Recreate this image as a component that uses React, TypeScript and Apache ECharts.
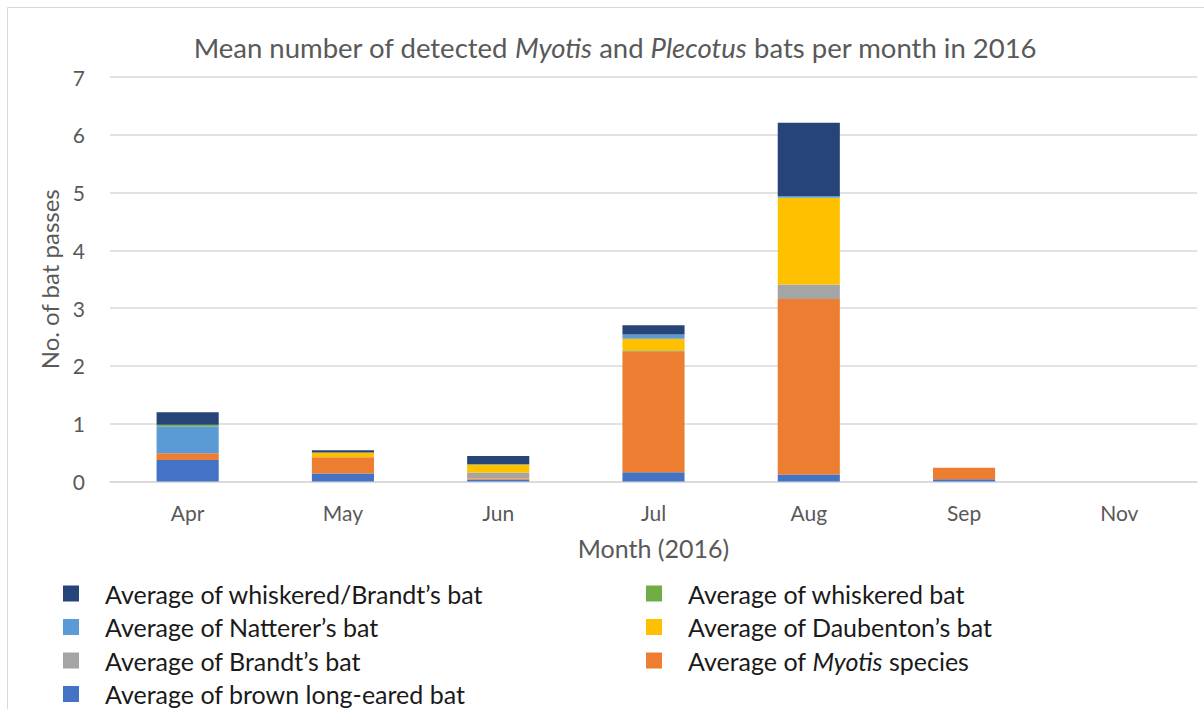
import React, { useEffect, useRef } from "react";
import * as echarts from "echarts";

const months = ["Apr", "May", "Jun", "Jul", "Aug", "Sep", "Nov"];
const yTicks = [0, 1, 2, 3, 4, 5, 6, 7];

const seriesNames = [
  "Average of brown long-eared bat",
  "Average of Myotis species",
  "Average of Brandt\u2019s bat",
  "Average of Daubenton\u2019s bat",
  "Average of Natterer\u2019s bat",
  "Average of whiskered bat",
  "Average of whiskered/Brandt\u2019s bat",
];
const seriesColors = ["#4472C4", "#ED7D31", "#A5A5A5", "#FFC000", "#5B9BD5", "#70AD47", "#264478"];

const brownLongEared = [0.37, 0.14, 0.03, 0.16, 0.12, 0.04, 0];
const myotisSpecies = [0.12, 0.28, 0.02, 2.08, 3.04, 0.2, 0];
const brandts = [0, 0, 0.1, 0.02, 0.25, 0, 0];
const daubentons = [0, 0.08, 0.14, 0.21, 1.5, 0, 0];
const natterers = [0.46, 0, 0, 0.075, 0.03, 0, 0];
const whiskered = [0.03, 0, 0.01, 0, 0, 0, 0];
const whiskeredBrandts = [0.22, 0.04, 0.14, 0.16, 1.27, 0, 0];

const seriesValues = [brownLongEared, myotisSpecies, brandts, daubentons, natterers, whiskered, whiskeredBrandts];

const legendLeft = [seriesNames[6], seriesNames[4], seriesNames[2], seriesNames[0]];
const legendRight = [seriesNames[5], seriesNames[3], seriesNames[1]];

const FONT = "Lato, 'Open Sans', sans-serif";
const GRAY = "#595959";

export default function App() {
  const ref = useRef<HTMLDivElement>(null);
  useEffect(() => {
    if (!ref.current) return;
    const chart = echarts.init(ref.current, undefined, { renderer: "svg" });
    const LS = 25;
    const LH = 24;
    const legendText = {
      fontFamily: FONT,
      fontSize: LS,
      lineHeight: LH,
      color: "#1a1a1a",
      padding: [0, 0, 0, 21],
      rich: {
        n: { fontFamily: FONT, fontSize: LS, lineHeight: LH, color: "#1a1a1a" },
        i: { fontFamily: FONT, fontSize: LS, lineHeight: LH, color: "#1a1a1a", fontStyle: "italic" },
      },
    };
    const legendFormatter = (name: string) => {
      if (name === seriesNames[1]) return "{n|Average of }{i|Myotis}{n| species}";
      return "{n|" + name + "}";
    };
    const legendCommon = {
      orient: "vertical",
      top: 576,
      height: 200,
      itemWidth: 16,
      itemHeight: 16,
      itemGap: 8.5,
      icon: "rect",
      textStyle: legendText,
      formatter: legendFormatter,
      selectedMode: false,
    };
    chart.setOption({
      animation: false,
      backgroundColor: "#ffffff",
      title: {
        text: "{a|Mean number of detected }{b|Myotis}{a| and }{b|Plecotus}{a| bats per month in 2016}",
        left: 610,
        textAlign: "center",
        top: 28,
        textStyle: {
          fontWeight: "normal",
          rich: {
            a: { fontFamily: FONT, fontSize: 27.5, color: GRAY, fontWeight: "normal" },
            b: { fontFamily: FONT, fontSize: 27.5, color: GRAY, fontStyle: "italic", fontWeight: "normal" },
          },
        },
      },
      graphic: [
        {
          type: "rect",
          shape: { x: 7.5, y: 7.5, width: 1300, height: 800 },
          style: { fill: "none", stroke: "#d9d9d9", lineWidth: 1 },
          silent: true,
        },
      ],
      legend: [
        { ...legendCommon, left: 58, data: legendLeft },
        { ...legendCommon, left: 641, data: legendRight },
      ],
      grid: { left: 110, right: 7, top: 77, bottom: 227.5, containLabel: false },
      xAxis: {
        type: "category",
        data: months,
        name: "Month (2016)",
        nameLocation: "middle",
        nameGap: 54,
        nameTextStyle: { fontFamily: FONT, fontSize: 25, color: GRAY },
        axisLine: { show: true, lineStyle: { color: "#d9d9d9", width: 1.5 } },
        axisTick: { show: false },
        axisLabel: { fontFamily: FONT, fontSize: 21, color: GRAY, margin: 20 },
      },
      yAxis: {
        type: "value",
        min: yTicks[0],
        max: yTicks[yTicks.length - 1],
        interval: 1,
        name: "No. of bat passes",
        nameLocation: "middle",
        nameGap: 46,
        nameTextStyle: { fontFamily: FONT, fontSize: 24, color: GRAY },
        axisLine: { show: false },
        axisTick: { show: false },
        axisLabel: { fontFamily: FONT, fontSize: 21, color: GRAY, margin: 25 },
        splitLine: { lineStyle: { color: "#d9d9d9", width: 1.5 } },
      },
      series: seriesNames.map((name, i) => ({
        name,
        type: "bar",
        stack: "total",
        barWidth: "40%",
        data: seriesValues[i],
        itemStyle: { color: seriesColors[i] },
        emphasis: { disabled: true },
      })),
    });
    return () => chart.dispose();
  }, []);
  return (
    <div
      ref={ref}
      style={{ position: "fixed", left: 0, top: 0, width: 1204, height: 709, background: "#fff" }}
    />
  );
}
